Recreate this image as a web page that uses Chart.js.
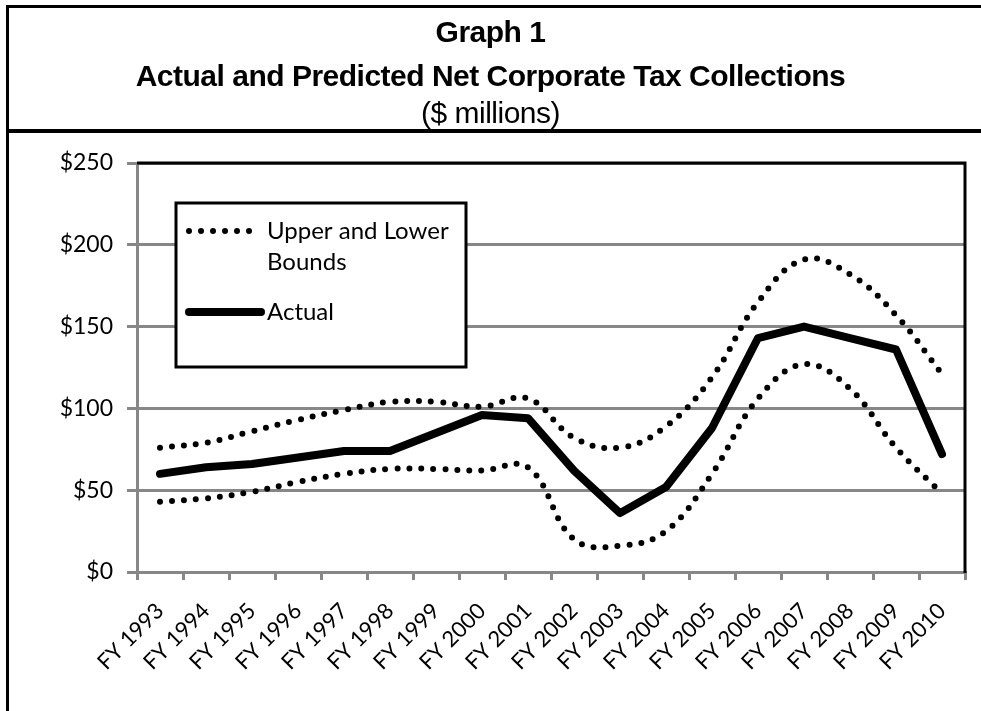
<!DOCTYPE html>
<html>
<head>
<meta charset="utf-8">
<script src="https://cdn.jsdelivr.net/npm/chart.js@4.4.1/dist/chart.umd.min.js"></script>
<style>
    html, body { margin: 0; padding: 0; background: #fff; }
    body { width: 981px; height: 711px; position: relative; overflow: hidden; }
    #frame {
        position: absolute; left: 6px; top: 5px; width: 1000px; height: 720px;
        border-left: 3px solid #000; border-top: 3px solid #000;
    }
    #rule { position: absolute; left: 6px; top: 129px; width: 1000px; height: 4px; background: #000; }
    .title {
        position: absolute; left: 0; width: 981px; text-align: center;
        font-family: "Liberation Sans", Arial, sans-serif; font-size: 30px; line-height: 36px;
        color: #000; letter-spacing: -0.5px;
    }
    .title.bold { font-weight: bold; }
    #chart { position: absolute; left: 0; top: 0; }
</style>
</head>
<body>
<canvas id="chart" width="981" height="711"></canvas>
<div id="frame"></div>
<div id="rule"></div>
<div class="title bold" style="top: 14px;">Graph 1</div>
<div class="title bold" style="top: 58px;">Actual and Predicted Net Corporate Tax Collections</div>
<div class="title" style="top: 95px;">($ millions)</div>
<script>
const years = ['FY 1993', 'FY 1994', 'FY 1995', 'FY 1996', 'FY 1997', 'FY 1998', 'FY 1999', 'FY 2000', 'FY 2001',
    'FY 2002', 'FY 2003', 'FY 2004', 'FY 2005', 'FY 2006', 'FY 2007', 'FY 2008', 'FY 2009', 'FY 2010'];
const upperBound = [76, 79, 86, 93, 99, 104, 104, 101, 106, 82, 76, 89, 119, 165, 191, 182, 157, 121];
const lowerBound = [43, 45, 49, 55, 60, 63, 63, 62, 64, 20, 16, 25, 60, 106, 127, 112, 76, 48];
const actual = [60, 64, 66, 70, 74, 74, 85, 96, 94, 62, 36, 52, 88, 143, 150, 143, 136, 72];
const yTicks = [0, 50, 100, 150, 200, 250];

const GRID = '#878787';
const FONT = { family: 'Lato, "Open Sans", sans-serif', size: 23 };

const boundStyle = {
    label: 'Upper and Lower Bounds',
    borderColor: '#000',
    borderWidth: 6,
    borderDash: [0, 12],
    borderCapStyle: 'round',
    tension: 0.4,
    pointRadius: 0,
    fill: false,
};

// black top and right edges of the plot area
const plotFrame = {
    id: 'plotFrame',
    beforeDatasetsDraw(chart) {
        const { ctx, chartArea: a } = chart;
        ctx.save();
        ctx.strokeStyle = '#000';
        ctx.lineWidth = 3;
        ctx.beginPath();
        ctx.moveTo(a.left, a.top);
        ctx.lineTo(a.right, a.top);
        ctx.lineTo(a.right, a.bottom + 1);
        ctx.stroke();
        ctx.restore();
    },
};

// boxed legend sitting inside the plot, one entry per distinct label
const boxLegend = {
    id: 'boxLegend',
    afterDatasetsDraw(chart, args, opts) {
        const { ctx, chartArea: a } = chart;
        const x = a.left + opts.left;
        const y = a.top + opts.top;
        ctx.save();
        ctx.fillStyle = '#fff';
        ctx.fillRect(x, y, opts.width, opts.height);
        ctx.strokeStyle = '#000';
        ctx.lineWidth = 3;
        ctx.strokeRect(x, y, opts.width, opts.height);

        ctx.font = `${opts.fontSize}px ${FONT.family}`;
        ctx.fillStyle = '#000';
        ctx.textBaseline = 'middle';
        const seen = new Set();
        let rowY = y + 28;
        chart.data.datasets.forEach(ds => {
            if (seen.has(ds.label)) return;
            seen.add(ds.label);
            ctx.save();
            ctx.strokeStyle = ds.borderColor;
            ctx.lineWidth = ds.borderWidth;
            ctx.lineCap = ds.borderCapStyle || 'butt';
            ctx.setLineDash(ds.borderDash || []);
            ctx.beginPath();
            ctx.moveTo(x + 13, rowY);
            ctx.lineTo(x + (ds.borderDash ? 80 : 85), rowY);
            ctx.stroke();
            ctx.restore();

            // wrap the label into lines that fit the box
            const words = ds.label.split(' ');
            const lines = [];
            let line = '';
            words.forEach(w => {
                const test = line ? line + ' ' + w : w;
                if (line && ctx.measureText(test).width > opts.textWidth) {
                    lines.push(line);
                    line = w;
                } else {
                    line = test;
                }
            });
            lines.push(line);
            lines.forEach((t, i) => ctx.fillText(t, x + 91, rowY + i * 31));
            rowY += (lines.length - 1) * 31 + 50;
        });
        ctx.restore();
    },
};

new Chart(document.getElementById('chart'), {
    type: 'line',
    data: {
        labels: years,
        datasets: [
            { ...boundStyle, data: upperBound },
            { ...boundStyle, data: lowerBound },
            {
                label: 'Actual',
                data: actual,
                borderColor: '#000',
                borderWidth: 8,
                borderCapStyle: 'round',
                borderJoinStyle: 'round',
                tension: 0,
                pointRadius: 0,
                fill: false,
            },
        ],
    },
    options: {
        responsive: false,
        animation: false,
        layout: { padding: { left: 0, top: 163, right: 16, bottom: 0 } },
        plugins: {
            legend: { display: false },
            tooltip: { enabled: false },
            title: { display: false },
            boxLegend: { left: 39, top: 40, width: 290, height: 164, fontSize: 24, textWidth: 190 },
        },
        scales: {
            x: {
                offset: true,
                grid: {
                    offset: true,
                    drawOnChartArea: false,
                    color: GRID,
                    lineWidth: 3,
                    tickLength: 8,
                },
                border: { display: true, color: GRID, width: 3 },
                ticks: {
                    autoSkip: false,
                    minRotation: 45,
                    maxRotation: 45,
                    padding: 18,
                    color: '#000',
                    font: { ...FONT, size: 22 },
                },
                afterFit(scale) { scale.height = 139; },
            },
            y: {
                min: 0,
                max: 250,
                afterBuildTicks(scale) { scale.ticks = yTicks.map(v => ({ value: v })); },
                grid: { color: GRID, lineWidth: 3, tickLength: 10 },
                border: { display: true, color: GRID, width: 3 },
                ticks: {
                    padding: 14,
                    color: '#000',
                    font: FONT,
                    callback: v => '$' + v,
                },
                afterFit(scale) { scale.width = 137; },
            },
        },
    },
    plugins: [plotFrame, boxLegend],
});
</script>
</body>
</html>
